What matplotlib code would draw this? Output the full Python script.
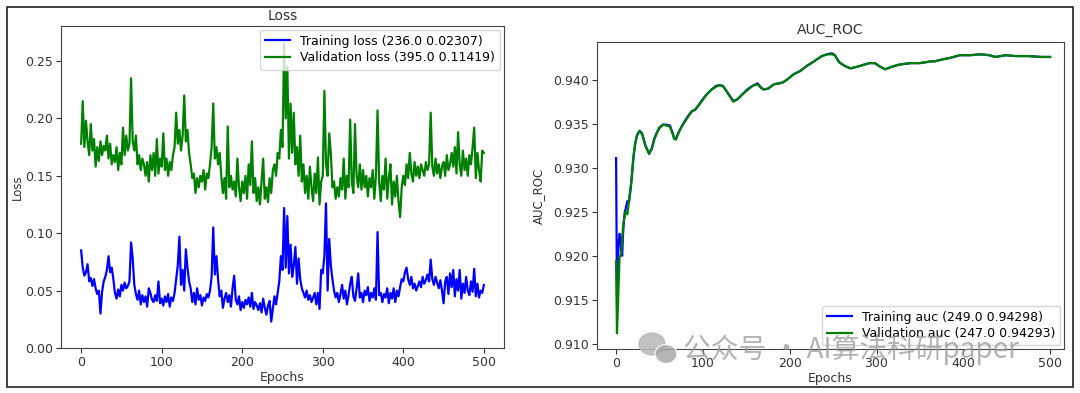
import numpy as np
import matplotlib.pyplot as plt
from matplotlib.patches import Ellipse, Rectangle

# ---- loss data, every 2nd epoch (0..500) ----
loss_epochs = np.arange(0, 501, 2)

train_loss = [
    0.085, 0.070, 0.063, 0.066, 0.073, 0.058, 0.061, 0.054, 0.060, 0.052,
    0.047, 0.050, 0.030, 0.049, 0.058, 0.062, 0.068, 0.080, 0.066, 0.070,
    0.060, 0.048, 0.043, 0.051, 0.045, 0.055, 0.050, 0.057, 0.052, 0.054,
    0.058, 0.092, 0.078, 0.055, 0.047, 0.042, 0.050, 0.038, 0.046, 0.040,
    0.045, 0.036, 0.052, 0.048, 0.042, 0.040, 0.046, 0.041, 0.058, 0.039,
    0.043, 0.037, 0.045, 0.040, 0.047, 0.036, 0.044, 0.041, 0.048, 0.060,
    0.072, 0.097, 0.055, 0.068, 0.050, 0.086, 0.070, 0.058, 0.052, 0.040,
    0.048, 0.038, 0.052, 0.042, 0.046, 0.037, 0.044, 0.041, 0.047, 0.044,
    0.050, 0.062, 0.105, 0.064, 0.080, 0.060, 0.045, 0.050, 0.035, 0.043,
    0.048, 0.040, 0.046, 0.036, 0.052, 0.063, 0.042, 0.038, 0.045, 0.033,
    0.040, 0.035, 0.042, 0.038, 0.044, 0.036, 0.048, 0.034, 0.040, 0.037,
    0.033, 0.039, 0.031, 0.043, 0.035, 0.029, 0.037, 0.041, 0.023, 0.034,
    0.045, 0.038, 0.048, 0.058, 0.080, 0.068, 0.122, 0.070, 0.115, 0.065,
    0.090, 0.062, 0.072, 0.088, 0.056, 0.078, 0.060, 0.052, 0.048, 0.044,
    0.050, 0.042, 0.046, 0.040, 0.044, 0.048, 0.038, 0.048, 0.034, 0.068,
    0.065, 0.080, 0.126, 0.050, 0.095, 0.072, 0.060, 0.050, 0.044, 0.048,
    0.040, 0.047, 0.055, 0.043, 0.050, 0.038, 0.046, 0.056, 0.062, 0.045,
    0.041, 0.052, 0.065, 0.044, 0.048, 0.040, 0.050, 0.046, 0.053, 0.041,
    0.048, 0.044, 0.052, 0.042, 0.101, 0.046, 0.048, 0.040, 0.047, 0.044,
    0.052, 0.039, 0.048, 0.043, 0.052, 0.040, 0.050, 0.045, 0.053, 0.060,
    0.058, 0.066, 0.070, 0.060, 0.055, 0.062, 0.052, 0.056, 0.050, 0.054,
    0.058, 0.053, 0.062, 0.056, 0.059, 0.064, 0.058, 0.077, 0.060, 0.055,
    0.062, 0.057, 0.052, 0.059, 0.050, 0.039, 0.058, 0.062, 0.047, 0.065,
    0.053, 0.068, 0.045, 0.060, 0.050, 0.068, 0.043, 0.056, 0.048, 0.062,
    0.050, 0.046, 0.058, 0.049, 0.069, 0.045, 0.056, 0.044, 0.050, 0.048,
    0.055,
]

val_loss = [
    0.178, 0.215, 0.175, 0.198, 0.180, 0.168, 0.195, 0.172, 0.182, 0.158,
    0.175, 0.163, 0.180, 0.168, 0.176, 0.172, 0.185, 0.165, 0.178, 0.160,
    0.168, 0.162, 0.175, 0.155, 0.170, 0.160, 0.192, 0.168, 0.185, 0.172,
    0.178, 0.235, 0.180, 0.172, 0.185, 0.160, 0.168, 0.155, 0.165, 0.160,
    0.150, 0.162, 0.145, 0.168, 0.155, 0.170, 0.150, 0.182, 0.152, 0.165,
    0.158, 0.187, 0.155, 0.165, 0.150, 0.162, 0.155, 0.168, 0.175, 0.205,
    0.178, 0.190, 0.172, 0.185, 0.220, 0.180, 0.190, 0.170, 0.160, 0.148,
    0.152, 0.135, 0.148, 0.140, 0.150, 0.145, 0.155, 0.138, 0.152, 0.148,
    0.160, 0.175, 0.213, 0.165, 0.175, 0.160, 0.170, 0.150, 0.135, 0.148,
    0.130, 0.193, 0.140, 0.150, 0.138, 0.145, 0.132, 0.165, 0.140, 0.128,
    0.145, 0.135, 0.150, 0.130, 0.160, 0.142, 0.180, 0.135, 0.148, 0.128,
    0.140, 0.125, 0.145, 0.165, 0.130, 0.140, 0.127, 0.148, 0.135, 0.155,
    0.160, 0.150, 0.170, 0.165, 0.190, 0.175, 0.265, 0.200, 0.245, 0.165,
    0.213, 0.170, 0.205, 0.160, 0.175, 0.150, 0.185, 0.145, 0.160, 0.135,
    0.150, 0.130, 0.158, 0.140, 0.128, 0.152, 0.135, 0.166, 0.125, 0.145,
    0.150, 0.224, 0.160, 0.150, 0.187, 0.170, 0.140, 0.145, 0.130, 0.140,
    0.132, 0.148, 0.138, 0.165, 0.130, 0.150, 0.140, 0.199, 0.145, 0.135,
    0.195, 0.150, 0.140, 0.160, 0.138, 0.155, 0.140, 0.150, 0.132, 0.148,
    0.140, 0.155, 0.130, 0.150, 0.207, 0.145, 0.128, 0.150, 0.138, 0.165,
    0.130, 0.148, 0.160, 0.125, 0.145, 0.132, 0.150, 0.128, 0.114, 0.140,
    0.150, 0.142, 0.160, 0.148, 0.170, 0.152, 0.145, 0.162, 0.150, 0.158,
    0.148, 0.160, 0.155, 0.150, 0.162, 0.155, 0.160, 0.205, 0.158, 0.150,
    0.165, 0.152, 0.160, 0.148, 0.158, 0.162, 0.150, 0.168, 0.155, 0.160,
    0.170, 0.158, 0.175, 0.152, 0.188, 0.160, 0.150, 0.172, 0.155, 0.165,
    0.150, 0.168, 0.160, 0.175, 0.192, 0.148, 0.170, 0.155, 0.145, 0.172,
    0.170,
]

# ---- AUC data (smooth curves, read at key epochs) ----
auc_epochs = [0, 1, 2, 3, 4, 5, 6, 7, 8, 9, 10, 11, 12, 13, 14, 15, 16, 17, 18,
              20, 22, 24, 27, 30, 34, 38, 41, 44, 47, 50, 54, 58, 62, 65, 67,
              69, 71, 75, 79, 83, 87, 91, 95, 99, 104, 110, 115, 119, 123, 128,
              135, 140, 145, 151, 157, 163, 167, 170, 175, 182, 188, 192, 198,
              204, 212, 220, 228, 237, 243, 247, 249, 252, 257, 263, 270, 278,
              285, 292, 298, 304, 310, 318, 325, 331, 340, 350, 363, 367, 375,
              385, 396, 408, 420, 430, 437, 443, 449, 460, 475, 490, 500]

train_auc = [0.9311, 0.9155, 0.9190, 0.9215, 0.9225, 0.9222, 0.9205, 0.9200,
             0.9225, 0.9240, 0.9250, 0.9253, 0.9258, 0.9262, 0.9260, 0.9262,
             0.9270, 0.9278, 0.9288, 0.9312, 0.9328, 0.9337, 0.9342, 0.9339,
             0.9325, 0.9316, 0.9322, 0.9333, 0.9340, 0.9346, 0.9349, 0.9349,
             0.9348, 0.9340, 0.9333, 0.9333, 0.9338, 0.9346, 0.9353, 0.9359,
             0.9364, 0.9366, 0.9371, 0.9377, 0.9383, 0.9389, 0.9393, 0.9394,
             0.9393, 0.9386, 0.9376, 0.9378, 0.9383, 0.9389, 0.9393, 0.9396,
             0.9391, 0.9389, 0.9390, 0.9395, 0.9396, 0.9397, 0.9401, 0.9406,
             0.9410, 0.9416, 0.9421, 0.9427, 0.9429, 0.9430, 0.9430, 0.9428,
             0.9420, 0.9416, 0.9413, 0.9415, 0.9417, 0.9419, 0.9419, 0.9415,
             0.9412, 0.9415, 0.9417, 0.9418, 0.9419, 0.9419, 0.9421, 0.9421,
             0.9423, 0.9425, 0.9428, 0.9428, 0.9429, 0.9428, 0.9426, 0.9427,
             0.9428, 0.9427, 0.9427, 0.9426, 0.9426]

val_auc = [0.9194, 0.9112, 0.9140, 0.9170, 0.9199, 0.9200, 0.9203, 0.9218,
           0.9233, 0.9240, 0.9245, 0.9250, 0.9248, 0.9247, 0.9255, 0.9264,
           0.9272, 0.9280, 0.9290, 0.9313, 0.9327, 0.9336, 0.9342, 0.9338,
           0.9324, 0.9316, 0.9321, 0.9332, 0.9340, 0.9345, 0.9349, 0.9348,
           0.9347, 0.9339, 0.9333, 0.9332, 0.9338, 0.9346, 0.9352, 0.9358,
           0.9364, 0.9366, 0.9371, 0.9376, 0.9383, 0.9389, 0.9392, 0.9394,
           0.9393, 0.9386, 0.9375, 0.9378, 0.9383, 0.9388, 0.9393, 0.9395,
           0.9391, 0.9389, 0.9390, 0.9395, 0.9396, 0.9397, 0.9401, 0.9406,
           0.9410, 0.9416, 0.9421, 0.9427, 0.9429, 0.9429, 0.9429, 0.9428,
           0.9420, 0.9416, 0.9413, 0.9415, 0.9417, 0.9419, 0.9419, 0.9415,
           0.9412, 0.9415, 0.9417, 0.9418, 0.9419, 0.9419, 0.9421, 0.9421,
           0.9423, 0.9425, 0.9428, 0.9428, 0.9429, 0.9428, 0.9426, 0.9427,
           0.9428, 0.9427, 0.9427, 0.9426, 0.9426]

loss_labels = ['Training loss (236.0 0.02307)', 'Validation loss (395.0 0.11419)']
auc_labels = ['Training auc (249.0 0.94298)', 'Validation auc (247.0 0.94293)']

plt.rcParams['font.family'] = ['DejaVu Sans']
spine_col = '#444444'
text_col = '#333333'

fig = plt.figure(figsize=(10.8, 3.93), dpi=100)

# outer frame of the screenshot
fig.patches.append(Rectangle((7 / 1080, 6 / 393), 1066 / 1080, 380 / 393,
                             transform=fig.transFigure, fill=False,
                             edgecolor='#333333', linewidth=1.3))

ax1 = fig.add_axes([61 / 1080, 45 / 393, 443 / 1080, 322 / 393])
ax2 = fig.add_axes([597 / 1080, 44 / 393, 467 / 1080, 307 / 393])

ax1.plot(loss_epochs, train_loss, color='blue', lw=1.6, label=loss_labels[0])
ax1.plot(loss_epochs, val_loss, color='green', lw=1.6, label=loss_labels[1])
ax1.set_xlim(-25, 525)
ax1.set_ylim(0, 0.2805)
ax1.set_yticks([0.00, 0.05, 0.10, 0.15, 0.20, 0.25])
ax1.set_title('Loss', fontsize=10, color=text_col, pad=4)
ax1.set_xlabel('Epochs', fontsize=9, color=text_col, labelpad=2)
ax1.set_ylabel('Loss', fontsize=8.5, color=text_col, labelpad=1)
ax1.legend(loc='upper right', fontsize=9, borderaxespad=0.3,
           handlelength=2.0, labelspacing=0.3)

ax2.plot(auc_epochs, train_auc, color='blue', lw=1.6, label=auc_labels[0])
ax2.plot(auc_epochs, val_auc, color='green', lw=1.6, label=auc_labels[1])
ax2.set_xlim(-22, 516)
ax2.set_ylim(0.9094, 0.9443)
ax2.set_yticks([0.910, 0.915, 0.920, 0.925, 0.930, 0.935, 0.940])
ax2.set_title('AUC_ROC', fontsize=10, color=text_col, pad=6)
ax2.set_xlabel('Epochs', fontsize=9, color=text_col, labelpad=2)
ax2.set_ylabel('AUC_ROC', fontsize=8.5, color=text_col, labelpad=6)
ax2.legend(loc='lower right', fontsize=9, borderaxespad=0.3,
           handlelength=2.0, labelspacing=0.3)

for ax in (ax1, ax2):
    ax.set_xticks([0, 100, 200, 300, 400, 500])
    ax.tick_params(labelsize=9, colors=text_col, length=3.5, pad=2)
    for s in ax.spines.values():
        s.set_color(spine_col)

ax2.yaxis.set_major_formatter(plt.FormatStrFormatter('%.3f'))
ax1.yaxis.set_major_formatter(plt.FormatStrFormatter('%.2f'))

# watermark (WeChat icon + text), drawn over the plot like in the screenshot
fig.patches.append(Ellipse((652 / 1080, 1 - 344 / 393), 26 / 1080, 22 / 393,
                           transform=fig.transFigure, color='#b8b8b8', alpha=0.85, zorder=10))
fig.patches.append(Ellipse((666 / 1080, 1 - 354 / 393), 22 / 1080, 19 / 393,
                           transform=fig.transFigure, color='#a8a8a8', alpha=0.85, zorder=10,
                           ec='white', lw=1))
fig.text(683 / 1080, 1 - 350 / 393, '公众号 · AI算法科研paper', fontsize=20,
         family=['Noto Sans CJK SC', 'DejaVu Sans'], color='#9a9a9a', alpha=0.75,
         va='center', ha='left', zorder=11)

fig.savefig('out.png', dpi=100)
